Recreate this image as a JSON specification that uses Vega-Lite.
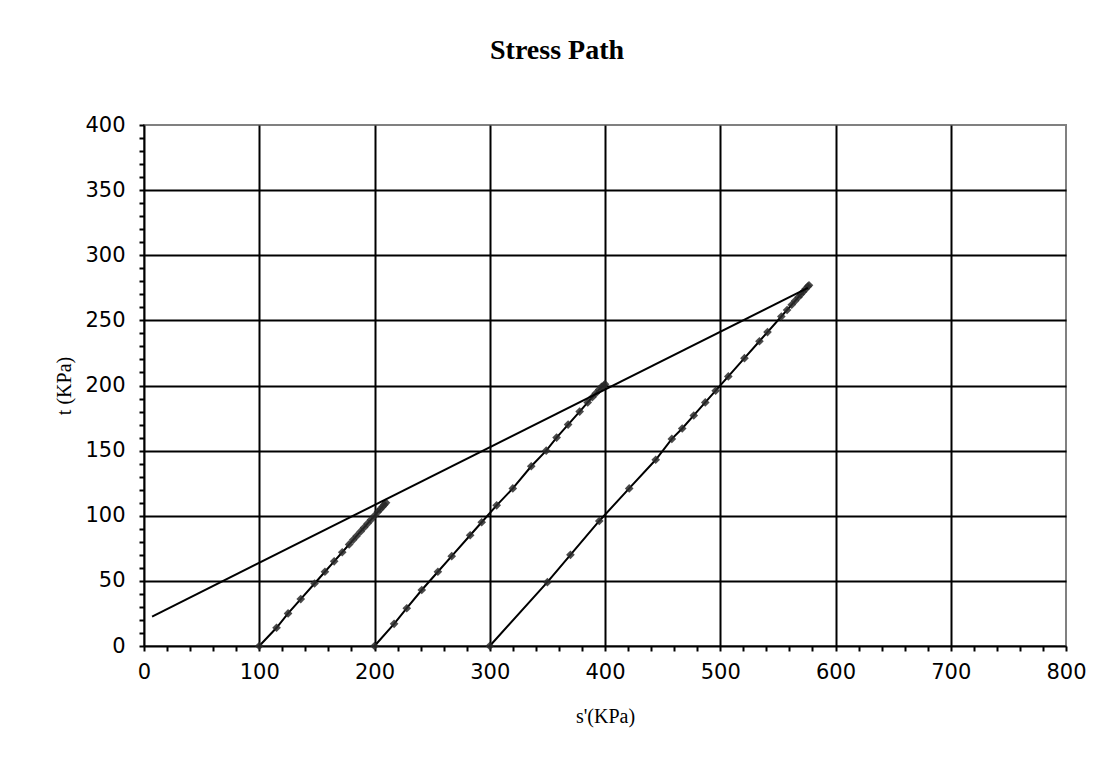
{
  "$schema": "https://vega.github.io/schema/vega-lite/v6.json",
  "width": 922,
  "height": 521,
  "autosize": {"type": "none"},
  "padding": {"left": 144, "top": 125, "right": 51, "bottom": 117},
  "background": "white",
  "title": {"text": "Stress Path", "font": "Liberation Serif", "fontSize": 28, "fontWeight": "bold", "color": "black", "anchor": "middle", "offset": 49, "dx": -48},
  "config": {
    "view": {"stroke": "#808080", "strokeWidth": 2},
    "axis": {"labelFont": "DejaVu Sans", "labelFontSize": 21, "labelColor": "black", "titleFont": "Liberation Serif", "titleFontSize": 20, "titleFontWeight": "normal", "titleColor": "black", "domainColor": "black", "domainWidth": 2, "tickColor": "black", "tickWidth": 2, "tickSize": 5, "gridColor": "black", "gridWidth": 2, "labelOverlap": false, "labelFlush": false}
  },
  "datasets": {
    "paths": [
      {"path": "A", "s": 100, "t": 0}, {"path": "A", "s": 115, "t": 14}, {"path": "A", "s": 125, "t": 25}, {"path": "A", "s": 136, "t": 36}, {"path": "A", "s": 148, "t": 48}, {"path": "A", "s": 157, "t": 57}, {"path": "A", "s": 165, "t": 65}, {"path": "A", "s": 172, "t": 72}, {"path": "A", "s": 178, "t": 78}, {"path": "A", "s": 181.5, "t": 81.5}, {"path": "A", "s": 184.5, "t": 84.5}, {"path": "A", "s": 188, "t": 88}, {"path": "A", "s": 191, "t": 91}, {"path": "A", "s": 194, "t": 94}, {"path": "A", "s": 197, "t": 97}, {"path": "A", "s": 200, "t": 100}, {"path": "A", "s": 203, "t": 103}, {"path": "A", "s": 205, "t": 105}, {"path": "A", "s": 207, "t": 107}, {"path": "A", "s": 208.5, "t": 108.5}, {"path": "A", "s": 210, "t": 110},
      {"path": "B", "s": 200, "t": 0}, {"path": "B", "s": 217, "t": 17}, {"path": "B", "s": 228, "t": 29}, {"path": "B", "s": 241, "t": 43}, {"path": "B", "s": 255, "t": 57}, {"path": "B", "s": 267, "t": 69}, {"path": "B", "s": 283, "t": 85}, {"path": "B", "s": 293, "t": 95}, {"path": "B", "s": 306, "t": 108}, {"path": "B", "s": 320, "t": 121}, {"path": "B", "s": 336, "t": 138}, {"path": "B", "s": 349, "t": 150}, {"path": "B", "s": 358, "t": 160}, {"path": "B", "s": 368, "t": 170}, {"path": "B", "s": 378, "t": 180}, {"path": "B", "s": 385, "t": 187}, {"path": "B", "s": 389, "t": 191}, {"path": "B", "s": 392, "t": 194}, {"path": "B", "s": 395, "t": 197}, {"path": "B", "s": 397, "t": 199}, {"path": "B", "s": 399, "t": 200}, {"path": "B", "s": 400, "t": 201},
      {"path": "C", "s": 300, "t": 0}, {"path": "C", "s": 350, "t": 49}, {"path": "C", "s": 370, "t": 70}, {"path": "C", "s": 395, "t": 96}, {"path": "C", "s": 421, "t": 121}, {"path": "C", "s": 444, "t": 143}, {"path": "C", "s": 458, "t": 159}, {"path": "C", "s": 467, "t": 167}, {"path": "C", "s": 477, "t": 177}, {"path": "C", "s": 487, "t": 187}, {"path": "C", "s": 496, "t": 196}, {"path": "C", "s": 507, "t": 207}, {"path": "C", "s": 521, "t": 221}, {"path": "C", "s": 534, "t": 234}, {"path": "C", "s": 541, "t": 241}, {"path": "C", "s": 553, "t": 253}, {"path": "C", "s": 558, "t": 258}, {"path": "C", "s": 562, "t": 262}, {"path": "C", "s": 565, "t": 265}, {"path": "C", "s": 568, "t": 268}, {"path": "C", "s": 570, "t": 270}, {"path": "C", "s": 572, "t": 272}, {"path": "C", "s": 574, "t": 274}, {"path": "C", "s": 576, "t": 276}, {"path": "C", "s": 577, "t": 277}
    ],
    "envelope": [
      {"s": 7, "t": 22.6}, {"s": 576, "t": 275}
    ]
  },
  "layer": [
    {
      "data": {"name": "paths"},
      "mark": {"type": "line", "color": "black", "strokeWidth": 2},
      "encoding": {
        "x": {"field": "s", "type": "quantitative", "scale": {"domain": [0, 800], "nice": false},
          "axis": {"title": "s'(KPa)", "tickCount": 41, "values": [0,20,40,60,80,100,120,140,160,180,200,220,240,260,280,300,320,340,360,380,400,420,440,460,480,500,520,540,560,580,600,620,640,660,680,700,720,740,760,780,800],
            "labelExpr": "datum.value % 100 === 0 ? datum.label : ''",
            "gridOpacity": {"condition": {"test": "datum.value % 100 === 0 && datum.value > 0 && datum.value < 800", "value": 1}, "value": 0},
            "labelPadding": 10, "titlePadding": 24}},
        "y": {"field": "t", "type": "quantitative", "scale": {"domain": [0, 400], "nice": false},
          "axis": {"title": "t (KPa)", "tickCount": 41, "values": [0,10,20,30,40,50,60,70,80,90,100,110,120,130,140,150,160,170,180,190,200,210,220,230,240,250,260,270,280,290,300,310,320,330,340,350,360,370,380,390,400],
            "labelExpr": "datum.value % 50 === 0 ? datum.label : ''",
            "gridOpacity": {"condition": {"test": "datum.value % 50 === 0 && datum.value > 0 && datum.value < 400", "value": 1}, "value": 0},
            "labelPadding": 14, "titlePadding": 10}},
        "detail": {"field": "path"}
      }
    },
    {
      "data": {"name": "paths"},
      "mark": {"type": "point", "shape": "diamond", "filled": true, "size": 75, "color": "#2a2a2a", "opacity": 0.85},
      "encoding": {
        "x": {"field": "s", "type": "quantitative"},
        "y": {"field": "t", "type": "quantitative"}
      }
    },
    {
      "data": {"name": "envelope"},
      "mark": {"type": "line", "color": "black", "strokeWidth": 2},
      "encoding": {
        "x": {"field": "s", "type": "quantitative"},
        "y": {"field": "t", "type": "quantitative"}
      }
    }
  ]
}
